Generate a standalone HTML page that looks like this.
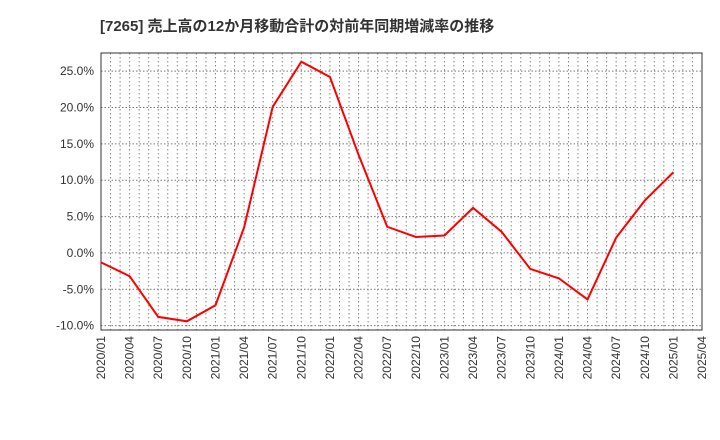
<!DOCTYPE html>
<html><head><meta charset="utf-8"><style>
body{margin:0;background:#fff;}
svg{display:block;font-family:"Liberation Sans","Noto Sans CJK JP",sans-serif;}
</style></head><body>
<svg id="c" width="720" height="440">
<text x="100" y="31" font-size="15" font-weight="bold" fill="#333">[7265]  売上高の12か月移動合計の対前年同期増減率の推移</text>
</svg>
<script>
const categories=["2020/01","2020/04","2020/07","2020/10","2021/01","2021/04","2021/07","2021/10","2022/01","2022/04","2022/07","2022/10","2023/01","2023/04","2023/07","2023/10","2024/01","2024/04","2024/07","2024/10","2025/01","2025/04"];
const values=[-1.3,-3.2,-8.8,-9.4,-7.2,3.5,20.1,26.3,24.2,13.5,3.6,2.2,2.4,6.2,2.9,-2.2,-3.5,-6.4,2.1,7.2,11.1];
const yTicks=[-10,-5,0,5,10,15,20,25];
const L=101,R=702,T=53,B=330,yMin=-10.6,yMax=27.5;
const NS="http://www.w3.org/2000/svg",svg=document.getElementById('c');
const xs=i=>L+(R-L)*i/(categories.length-1);
const ys=v=>B-(v-yMin)/(yMax-yMin)*(B-T);
function mk(t,a){const e=document.createElementNS(NS,t);for(const k in a)e.setAttribute(k,a[k]);svg.appendChild(e);return e;}
const nM=(categories.length-1)*3;
for(let m=1;m<nM;m++){const x=L+(R-L)*m/nM;
const g=mk('line',{x1:x,x2:x,y1:T,y2:B,stroke:'#888','stroke-dasharray':'1.5,2.5'});

}
yTicks.forEach(v=>{const y=ys(v);
const g=mk('line',{x1:L,x2:R,y1:y,y2:y,stroke:'#777','stroke-dasharray':'1.5,2'});


const t=mk('text',{x:L-7,y:y+4,'text-anchor':'end','font-size':12,fill:'#333'});t.textContent=v.toFixed(1)+'%';

});
categories.forEach((c,i)=>{const x=xs(i);
const t=mk('text',{x:0,y:0,'text-anchor':'end','font-size':12,fill:'#333',transform:`translate(${x+4},${B+6}) rotate(-90)`});t.textContent=c;

});
const fr=mk('rect',{x:L,y:T,width:R-L,height:B-T,fill:'none',stroke:'#333'});


const p=mk('polyline',{points:values.map((v,i)=>xs(i)+','+ys(v)).join(' '),fill:'none',stroke:'#f00','stroke-width':2});


</script>
</body></html>
